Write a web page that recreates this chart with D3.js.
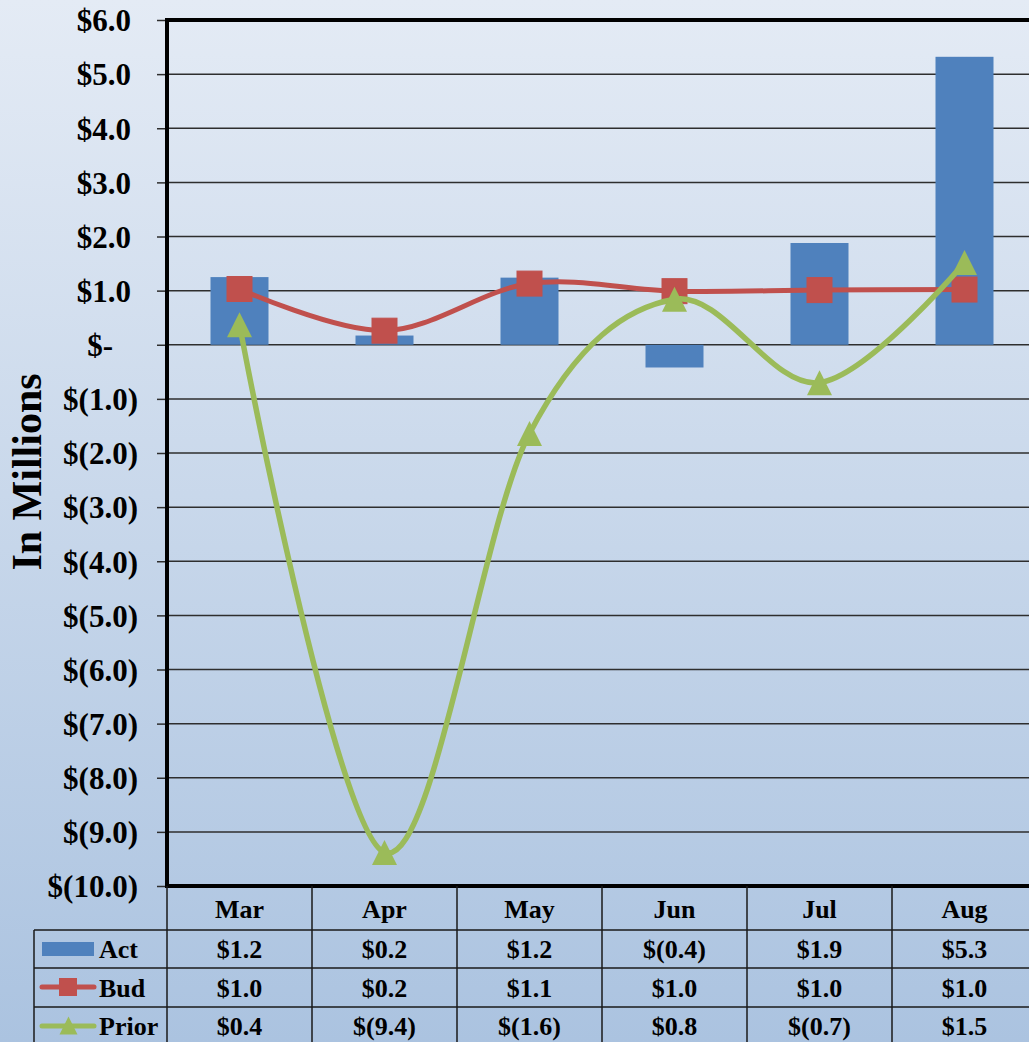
<!DOCTYPE html>
<html>
<head>
<meta charset="utf-8">
<script src="https://cdn.jsdelivr.net/npm/d3@7/dist/d3.min.js"></script>
<style>
  html, body { margin: 0; padding: 0; overflow: hidden; background: #c6d5ea; }
  svg { display: block; }
  text { font-family: "Liberation Serif", "Times New Roman", serif; font-weight: bold; fill: #000; }
</style>
</head>
<body>
<script>
// ---- data ----
const categories = ["Mar", "Apr", "May", "Jun", "Jul", "Aug"];
const actValues   = [1.25, 0.17, 1.24, -0.42, 1.88, 5.32];
const budValues   = [1.03, 0.26, 1.13, 0.99, 1.01, 1.02];
const priorValues = [0.37, -9.38, -1.64, 0.84, -0.70, 1.52];
const actLabels   = ["$1.2", "$0.2", "$1.2", "$(0.4)", "$1.9", "$5.3"];
const budLabels   = ["$1.0", "$0.2", "$1.1", "$1.0", "$1.0", "$1.0"];
const priorLabels = ["$0.4", "$(9.4)", "$(1.6)", "$0.8", "$(0.7)", "$1.5"];
const seriesNames = ["Act", "Bud", "Prior"];
const yTickValues = [6, 5, 4, 3, 2, 1, 0, -1, -2, -3, -4, -5, -6, -7, -8, -9, -10];
const yTickLabels = ["$6.0", "$5.0", "$4.0", "$3.0", "$2.0", "$1.0", "$-", "$(1.0)", "$(2.0)", "$(3.0)", "$(4.0)", "$(5.0)", "$(6.0)", "$(7.0)", "$(8.0)", "$(9.0)", "$(10.0)"];
const yTitle = "In Millions";

// ---- layout ----
const W = 1029, H = 1042;
const plotL = 167, plotR = 1037, plotT = 20, plotB = 886;
const colors = { act: "#4f81bd", bud: "#c0504d", prior: "#9bbb59" };

const svg = d3.select("body").append("svg").attr("width", W).attr("height", H);

const defs = svg.append("defs");
const grad = defs.append("linearGradient").attr("id", "bg").attr("x1", 0).attr("y1", 0).attr("x2", 0).attr("y2", 1);
grad.append("stop").attr("offset", "0%").attr("stop-color", "#e4ebf5");
grad.append("stop").attr("offset", "100%").attr("stop-color", "#abc3e0");
svg.append("rect").attr("width", W).attr("height", H).attr("fill", "url(#bg)");

const x = d3.scaleBand().domain(categories).range([plotL, plotR]).paddingInner(0).paddingOuter(0);
const y = d3.scaleLinear().domain([-10, 6]).range([plotB, plotT]);
const cx = c => x(c) + x.bandwidth() / 2;

// gridlines
svg.append("g").selectAll("line").data(yTickValues.slice(1, -1)).join("line")
  .attr("x1", plotL).attr("x2", plotR)
  .attr("y1", d => y(d)).attr("y2", d => y(d))
  .attr("stroke", "#2e2e2e").attr("stroke-width", 1.5);

// y axis with ticks
const yAxis = d3.axisLeft(y).tickValues(yTickValues).tickSize(10)
  .tickFormat((d, i) => yTickLabels[yTickValues.indexOf(d)]);
const gy = svg.append("g").attr("transform", `translate(${plotL},0)`).call(yAxis);
gy.select(".domain").remove();
gy.selectAll(".tick line").attr("stroke", "#2e2e2e").attr("stroke-width", 1.5);
gy.selectAll(".tick text")
  .attr("font-size", 31).attr("font-family", "Liberation Serif, serif").attr("font-weight", "bold")
  .attr("fill", "#000").attr("dy", "0.35em")
  .attr("x", d => d > 0 ? -36 : (d === 0 ? -54 : -29));

// y title
svg.append("text")
  .attr("transform", `translate(41,472) rotate(-90)`)
  .attr("text-anchor", "middle").attr("font-size", 42)
  .text(yTitle);

// bars
const barW = x.bandwidth() * 0.4;
svg.append("g").selectAll("rect").data(categories).join("rect")
  .attr("x", c => cx(c) - barW / 2)
  .attr("width", barW)
  .attr("y", (c, i) => y(Math.max(0, actValues[i])))
  .attr("height", (c, i) => Math.abs(y(actValues[i]) - y(0)))
  .attr("fill", colors.act);

const line = d3.line().x(d => d[0]).y(d => d[1]).curve(d3.curveCardinal.tension(0));

// Bud line + markers
const budPts = categories.map((c, i) => [cx(c), y(budValues[i])]);
svg.append("path").attr("d", line(budPts)).attr("fill", "none")
  .attr("stroke", colors.bud).attr("stroke-width", 5).attr("stroke-linejoin", "round");
svg.append("g").selectAll("rect").data(budPts).join("rect")
  .attr("x", d => d[0] - 12.5).attr("y", d => d[1] - 12.5)
  .attr("width", 25).attr("height", 25).attr("fill", colors.bud)
  .attr("stroke", "#c0504d").attr("stroke-width", 1);

// Prior line + markers
const priorPts = categories.map((c, i) => [cx(c), y(priorValues[i])]);
svg.append("path").attr("d", line(priorPts)).attr("fill", "none")
  .attr("stroke", colors.prior).attr("stroke-width", 5.5).attr("stroke-linejoin", "round");
const tri = (px, py, s) => `M${px},${py - s / 2}L${px + s / 2},${py + s / 2}L${px - s / 2},${py + s / 2}Z`;
svg.append("g").selectAll("path").data(priorPts).join("path")
  .attr("d", d => tri(d[0], d[1], 25)).attr("fill", colors.prior);

// plot border (left, top, bottom thick)
svg.append("path")
  .attr("d", `M${plotR + 5},${plotT}H${plotL}V${plotB}H${plotR + 5}`)
  .attr("fill", "none").attr("stroke", "#000").attr("stroke-width", 4);

// ---- data table ----
const tableL = 34;
const tg = svg.append("g");
const tStroke = "#1a1a1a";
[930, 968, 1007].forEach(yy => {
  tg.append("line").attr("x1", tableL).attr("x2", plotR).attr("y1", yy).attr("y2", yy)
    .attr("stroke", tStroke).attr("stroke-width", 1.5);
});
categories.forEach(c => {
  tg.append("line").attr("x1", x(c)).attr("x2", x(c)).attr("y1", plotB).attr("y2", H)
    .attr("stroke", tStroke).attr("stroke-width", 1.5);
});
tg.append("line").attr("x1", plotR).attr("x2", plotR).attr("y1", plotB).attr("y2", H)
  .attr("stroke", tStroke).attr("stroke-width", 1.5);
tg.append("line").attr("x1", tableL).attr("x2", tableL).attr("y1", 930).attr("y2", H)
  .attr("stroke", tStroke).attr("stroke-width", 1.5);

tg.selectAll("text.hdr").data(categories).join("text").attr("class", "hdr")
  .attr("x", c => cx(c)).attr("y", 909).attr("dy", "0.35em")
  .attr("text-anchor", "middle").attr("font-size", 26).text(c => c);

const rowLabels = [actLabels, budLabels, priorLabels];
const rowCenters = [949, 987.5, 1026];
rowLabels.forEach((labs, r) => {
  tg.selectAll(`text.r${r}`).data(categories).join("text").attr("class", `r${r}`)
    .attr("x", c => cx(c)).attr("y", rowCenters[r]).attr("dy", "0.35em")
    .attr("text-anchor", "middle").attr("font-size", 26).text((c, i) => labs[i]);
  tg.append("text").attr("x", 99).attr("y", rowCenters[r]).attr("dy", "0.35em")
    .attr("font-size", 26).text(seriesNames[r]);
});

// legend keys
tg.append("rect").attr("x", 42).attr("y", 942).attr("width", 52).attr("height", 14).attr("fill", colors.act);
tg.append("line").attr("x1", 42).attr("x2", 94).attr("y1", 987).attr("y2", 987)
  .attr("stroke", colors.bud).attr("stroke-width", 5).attr("stroke-linecap", "round");
tg.append("rect").attr("x", 59).attr("y", 978).attr("width", 18).attr("height", 18).attr("fill", colors.bud);
tg.append("line").attr("x1", 42).attr("x2", 94).attr("y1", 1026).attr("y2", 1026)
  .attr("stroke", colors.prior).attr("stroke-width", 5).attr("stroke-linecap", "round");
tg.append("path").attr("d", tri(68.5, 1025.5, 18)).attr("fill", colors.prior);
</script>
</body>
</html>
